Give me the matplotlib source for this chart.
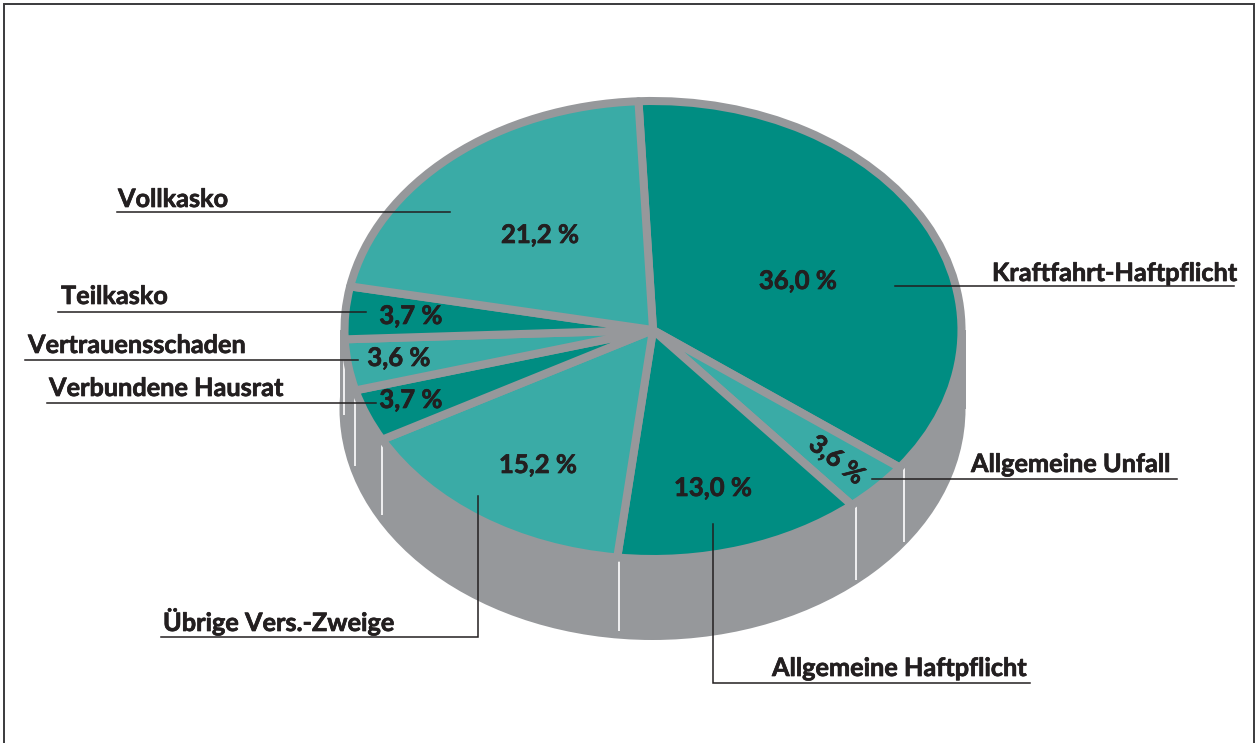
import numpy as np
import matplotlib
matplotlib.use("Agg")
import matplotlib.pyplot as plt
import matplotlib.patheffects as pe
from matplotlib.patches import Ellipse, Rectangle

# ---- data (clockwise from the top) ----
categories = ["Kraftfahrt-Haftpflicht", "Allgemeine Unfall", "Allgemeine Haftpflicht",
              "Übrige Vers.-Zweige", "Verbundene Hausrat", "Vertrauensschaden",
              "Teilkasko", "Vollkasko"]
values = [36.0, 3.6, 13.0, 15.2, 3.7, 3.6, 3.7, 21.2]
value_labels = ["36,0 %", "3,6 %", "13,0 %", "15,2 %", "3,7 %", "3,6 %", "3,7 %", "21,2 %"]

W, H = 1258, 743
DARK, LIGHT, GREY, INK = "#008D82", "#3AABA6", "#96989B", "#231F20"
FONT = ["Lato", "DejaVu Sans"]
START = 92.7
cx, cy, rx, ry, depth = 653, 330, 308.5, 229, 79
wall_x, wall_rx, wall_ry = 652.5, 310, 228

fig = plt.figure(figsize=(W / 100, H / 100), dpi=100, facecolor="white")

# pixel-coordinate overlay axes
base = fig.add_axes([0, 0, 1, 1], zorder=1)
base.set_xlim(0, W); base.set_ylim(H, 0); base.axis("off")

# side wall
base.add_patch(Ellipse((wall_x, cy + depth), 2 * wall_rx + 6, 2 * wall_ry + 6, fc=GREY, ec="none"))
base.add_patch(Rectangle((wall_x - wall_rx - 3, cy), 2 * wall_rx + 6, depth, fc=GREY, ec="none"))

# white seams on the wall, at the slice boundaries of the front half
bounds = START - np.cumsum(values) * 3.6
front = bounds[(bounds < 0) & (bounds > -180)]
xs = cx + 2 + (rx + 3) * np.cos(np.radians(front))
ys = cy + (ry - 2) * -np.sin(np.radians(front)) + 1
base.vlines(xs, ys, ys + 75, color="white", lw=1.2, zorder=3)

# pie top (elliptical, because the axes is not square)
m = 1.25
pie_ax = fig.add_axes([(cx - m * rx) / W, 1 - (cy + m * ry) / H,
                       2 * m * rx / W, 2 * m * ry / H], zorder=2)
pie_ax.patch.set_alpha(0)
colors = [DARK, LIGHT, DARK, LIGHT, DARK, LIGHT, DARK, LIGHT]
pie_ax.pie(values, colors=colors, startangle=START, counterclock=False, radius=1,
           wedgeprops=dict(edgecolor=GREY, linewidth=5.8, joinstyle="round"))
pie_ax.set_aspect("auto")
pie_ax.set_xlim(-m, m); pie_ax.set_ylim(-m, m)

# leader lines and labels on top
top = fig.add_axes([0, 0, 1, 1], zorder=3)
top.set_xlim(0, W); top.set_ylim(H, 0); top.axis("off")

leaders = {
    "Vollkasko": ([117, 450], [212, 212]),
    "Teilkasko": ([58, 366], [311.5, 311.5]),
    "Vertrauensschaden": ([25, 358], [360, 360]),
    "Verbundene Hausrat": ([47, 376], [403, 403]),
    "Kraftfahrt-Haftpflicht": ([895, 1234], [286, 286]),
    "Allgemeine Unfall": ([872, 1177], [479, 479]),
    "Allgemeine Haftpflicht": ([713, 713, 1030], [524, 683, 683]),
    "Übrige Vers.-Zweige": ([478, 478, 161], [496, 637, 637]),
}
for xl, yl in leaders.values():
    top.plot(xl, yl, color=INK, lw=1.1, solid_joinstyle="miter")

heavy = [pe.withStroke(linewidth=0.5, foreground=INK)]
label_pos = {
    "Vollkasko": (118, 207), "Teilkasko": (61, 304), "Vertrauensschaden": (28, 353),
    "Verbundene Hausrat": (49, 396), "Kraftfahrt-Haftpflicht": (992, 281),
    "Allgemeine Unfall": (971, 472), "Allgemeine Haftpflicht": (772, 676),
    "Übrige Vers.-Zweige": (163, 631),
}
for name, (x, y) in label_pos.items():
    top.text(x, y, name, ha="left", va="baseline", fontsize=18.2, fontweight="bold",
             family=FONT, color=INK, path_effects=heavy)

value_pos = [(798, 281, 0), (837, 460, -38), (713, 488, 0), (538, 465, 0),
             (411, 400, 0), (399, 358, 0), (411, 316, 0), (540, 235, 0)]
for txt, (x, y, rot) in zip(value_labels, value_pos):
    top.text(x, y, txt, ha="center", va="center", fontsize=18.5, fontweight="bold",
             family=FONT, color=INK, rotation=rot, rotation_mode="anchor", path_effects=heavy)

# frame
top.plot([4, 4, 1254, 1254], [H, 4, 4, H], color="#3a3a3c", lw=1.4, solid_joinstyle="miter")

fig.savefig("out.png", dpi=100)
